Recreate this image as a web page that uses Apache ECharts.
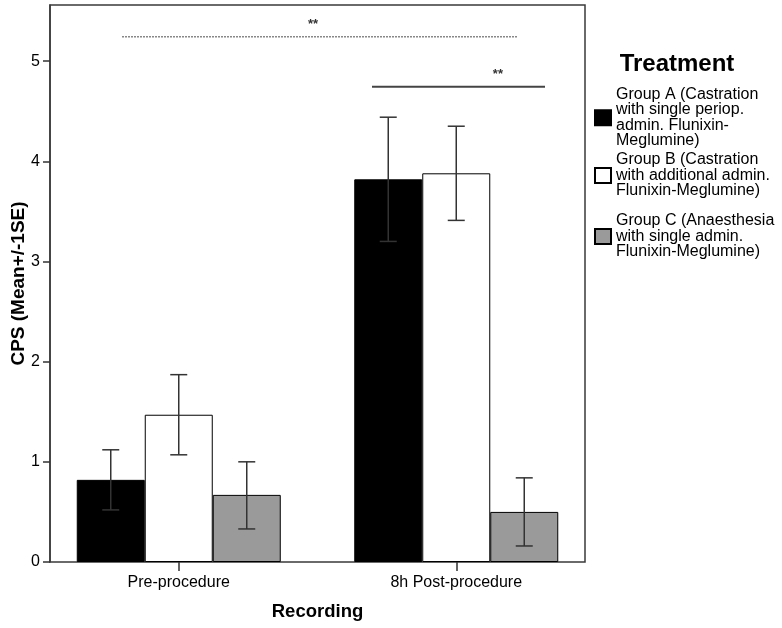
<!DOCTYPE html>
<html>
<head>
<meta charset="utf-8">
<script src="https://cdn.jsdelivr.net/npm/echarts@6/dist/echarts.min.js"></script>
<style>
html,body{margin:0;padding:0;background:#fff;}
#chart{width:782px;height:628px;}
</style>
</head>
<body>
<div id="chart"></div>
<script>
const categories = ['Pre-procedure', '8h Post-procedure'];
const groupNames = [
  'Group A (Castration\nwith single periop.\nadmin. Flunixin-\nMeglumine)',
  'Group B (Castration\nwith additional admin.\nFlunixin-Meglumine)',
  'Group C (Anaesthesia\nwith single admin.\nFlunixin-Meglumine)'
];
const meanA = [0.82, 3.82];
const meanB = [1.47, 3.88];
const meanC = [0.67, 0.50];
const lowA = [0.52, 3.20];
const highA = [1.12, 4.44];
const lowB = [1.07, 3.41];
const highB = [1.87, 4.35];
const lowC = [0.33, 0.16];
const highC = [1.00, 0.84];
const yTicks = [0, 1, 2, 3, 4, 5];
// significance brackets: [xStart, xEnd, y] on a continuous category scale
const sigLines = [[-0.2045, 1.2225, 5.244, 'dashed'], [0.6964, 1.3198, 4.745, 'solid']];
const sigLabels = [[0.484, 5.37, '**'], [1.150, 4.87, '**']];

const FONT = 'Liberation Sans, Arial, sans-serif';
const BAR_W = 68;
const colors = ['#000000', '#ffffff', '#9a9a9a'];
const means = [meanA, meanB, meanC];
const lows = [lowA, lowB, lowC];
const highs = [highA, highB, highC];
const YMAX = 5.56;
const legendTops = [86.5, 152, 213];

const chart = echarts.init(document.getElementById('chart'));

const barSeries = means.map((m, i) => ({
  type: 'bar',
  name: groupNames[i],
  xAxisIndex: 1, yAxisIndex: 1,
  data: m,
  barWidth: BAR_W,
  barGap: '0%',
  itemStyle: {color: colors[i], borderColor: '#000', borderWidth: 1},
  emphasis: {disabled: true},
  animation: false
}));

const errData = [];
for (let s = 0; s < 3; s++) {
  for (let c = 0; c < categories.length; c++) {
    errData.push([c, lows[s][c], highs[s][c], s]);
  }
}

const legends = groupNames.map((n, i) => ({
  orient: 'vertical', left: 594, top: legendTops[i], padding: 0,
  itemWidth: 16, itemHeight: 15,
  icon: 'rect',
  data: [n],
  textStyle: {fontFamily: FONT, fontSize: 16, color: '#000', lineHeight: 15.5},
  selectedMode: false
}));

const option = {
  animation: false,
  title: {
    text: 'Treatment', left: 672, top: 47, textAlign: 'center',
    textStyle: {fontFamily: FONT, fontSize: 24, fontWeight: 'bold', color: '#000'}
  },
  legend: legends,
  grid: [
    {left: 50, top: 5, width: 535, height: 557, show: true, borderColor: '#3a3a3a', borderWidth: 1.5, backgroundColor: 'transparent', containLabel: false, outerBoundsMode: 'none'},
    {left: 40, top: 5, width: 555, height: 557, show: false, containLabel: false, outerBoundsMode: 'none'}
  ],
  xAxis: [
    {type: 'value', gridIndex: 0, show: false, min: 0, max: 1},
    {type: 'category', gridIndex: 1, data: categories,
     axisLine: {show: false},
     axisTick: {show: true, alignWithLabel: true, length: 9, lineStyle: {color: '#333', width: 1.5}},
     axisLabel: {fontFamily: FONT, fontSize: 16, color: '#000', margin: 13},
     name: 'Recording', nameLocation: 'middle', nameGap: 40, nameMoveOverlap: false,
     nameTextStyle: {fontFamily: FONT, fontSize: 18.5, fontWeight: 'bold', color: '#000'}
    },
    {type: 'value', gridIndex: 1, show: false, min: -0.5, max: 1.5}
  ],
  yAxis: [
    {type: 'value', gridIndex: 0, min: 0, max: YMAX, interval: 1,
     axisLine: {show: true, lineStyle: {color: '#3a3a3a', width: 1.5}},
     axisTick: {show: true, length: 7, lineStyle: {color: '#333', width: 1.5}},
     axisLabel: {fontFamily: FONT, fontSize: 16, color: '#000', margin: 10, showMaxLabel: false,
       formatter: v => yTicks.includes(v) ? String(v) : ''},
     splitLine: {show: false},
     name: 'CPS (Mean+/-1SE)', nameLocation: 'middle', nameGap: 22, nameRotate: 90, nameMoveOverlap: false,
     nameTextStyle: {fontFamily: FONT, fontSize: 19, fontWeight: 'bold', color: '#000'}
    },
    {type: 'value', gridIndex: 1, min: 0, max: YMAX, show: false}
  ],
  series: [
    ...barSeries,
    {
      type: 'custom', name: 'err', xAxisIndex: 1, yAxisIndex: 1,
      data: errData,
      silent: true, z: 10,
      renderItem: function (params, api) {
        const c = api.value(0), lo = api.value(1), hi = api.value(2), s = api.value(3);
        const pLo = api.coord([c, lo]);
        const pHi = api.coord([c, hi]);
        const x = pLo[0] + (s - 1) * BAR_W;
        const cap = 8.5;
        const style = {stroke: '#333', lineWidth: 1.5};
        return {type: 'group', children: [
          {type: 'line', shape: {x1: x, y1: pLo[1], x2: x, y2: pHi[1]}, style},
          {type: 'line', shape: {x1: x - cap, y1: pLo[1], x2: x + cap, y2: pLo[1]}, style},
          {type: 'line', shape: {x1: x - cap, y1: pHi[1], x2: x + cap, y2: pHi[1]}, style}
        ]};
      }
    },
    {
      type: 'custom', name: 'sig', xAxisIndex: 2, yAxisIndex: 1,
      data: sigLines.map(d => [d[0], d[1], d[2], d[3] === 'dashed' ? 1 : 0]),
      silent: true, z: 10,
      renderItem: function (params, api) {
        const a = api.coord([api.value(0), api.value(2)]);
        const b = api.coord([api.value(1), api.value(2)]);
        const dashed = api.value(3) === 1;
        return {type: 'line', shape: {x1: a[0], y1: a[1], x2: b[0], y2: b[1]},
          style: {stroke: dashed ? '#888' : '#444', lineWidth: dashed ? 1.5 : 2, lineDash: dashed ? [2, 1] : null}};
      }
    },
    {
      type: 'custom', name: 'sigText', xAxisIndex: 2, yAxisIndex: 1,
      data: sigLabels,
      silent: true, z: 10,
      renderItem: function (params, api) {
        const p = api.coord([api.value(0), api.value(1)]);
        return {type: 'text', x: p[0], y: p[1],
          style: {text: sigLabels[params.dataIndex][2], fill: '#333', font: 'bold 13px ' + FONT, textAlign: 'center', textVerticalAlign: 'middle'}};
      }
    }
  ]
};
chart.setOption(option);
</script>
</body>
</html>
